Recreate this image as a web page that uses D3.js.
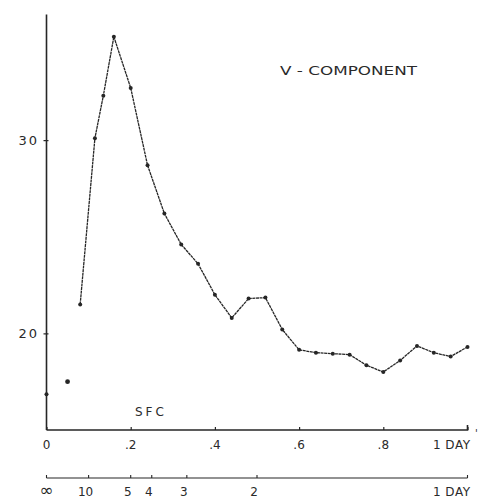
<!DOCTYPE html>
<html>
<head>
<meta charset="utf-8">
<script src="https://cdn.jsdelivr.net/npm/d3@7"></script>
<style>
body{margin:0;background:#fff;}
text{font-family:'DejaVu Sans',sans-serif;fill:#2a2a2a;}
</style>
</head>
<body>
<div id="chart_div"></div>
<script>
////////////////////////////////////////
// data
////////////////////////////////////////

var day = [0.08,0.115,0.135,0.16,0.20,0.24,0.28,0.32,0.36,0.40,0.44,0.48,0.52,0.56,0.60,0.64,0.68,0.72,0.76,0.80,0.84,0.88,0.92,0.96,1.00];
var vComp = [21.5,30.1,32.3,35.35,32.7,28.7,26.2,24.6,23.6,22.0,20.8,21.8,21.85,20.2,19.15,19.0,18.95,18.9,18.35,18.0,18.6,19.35,19.0,18.8,19.3];

var sfcDay = [0,0.05];
var sfcVal = [16.85,17.5];

var xTicks = [0,0.2,0.4,0.6,0.8,1];
var xTickLabels = ['0','.2','.4','.6','.8','1 DAY'];

var periodDays = [Infinity,10,5,4,3,2,1];
var periodLabels = ['\u221e','10','5','4','3','2','1 DAY'];

var yTicks = [20,30];

////////////////////////////////////////

var w = 481, h = 499;

var vis = d3.select('#chart_div')
	.append('svg')
	.attr('width',w)
	.attr('height',h);

var x = d3.scaleLinear().domain([0,1]).range([46.5,467.5]);
var y = d3.scaleLinear().domain([15,36.5]).range([430,14.5]);

var axisY0 = 430;
var axisY1 = 478;
var ink = '#262626';

// frequency axis
var xAxis = d3.axisBottom(x)
	.tickValues(xTicks)
	.tickSize(-3)
	.tickFormat('');

vis.append('g')
	.attr('transform','translate(0,'+axisY0+')')
	.call(xAxis)
	.call(function(g){
		g.select('.domain').attr('stroke',ink).attr('stroke-width',1.6).attr('d','M'+x(0)+',0H'+x(1)+'V-5');
		g.selectAll('.tick line').attr('stroke',ink).attr('stroke-width',1.2);
	});

vis.selectAll('text.xlab')
	.data(xTicks)
	.enter()
		.append('text')
		.attr('class','xlab')
		.attr('x',function(d,i){
			if(i===xTicks.length-1) return x(d)+3;
			return x(d);
		})
		.attr('y',axisY0+19)
		.attr('text-anchor',function(d,i){
			if(i===xTicks.length-1) return 'end';
			return 'middle';
		})
		.attr('font-size',12)
		.attr('letter-spacing',function(d,i){
			return i===xTicks.length-1 ? 0.5 : 0;
		})
		.text(function(d,i){
			return xTickLabels[i];
		});

vis.append('text')
	.attr('x',475)
	.attr('y',437)
	.attr('font-size',10)
	.text("'");

// period axis below
var periodPos = periodDays.map(function(p){
	return x(1/p);
});

vis.append('line')
	.attr('x1',x(0))
	.attr('x2',x(1))
	.attr('y1',axisY1)
	.attr('y2',axisY1)
	.attr('stroke',ink)
	.attr('stroke-width',1.2);

vis.selectAll('line.ptick')
	.data(periodPos)
	.enter()
		.append('line')
		.attr('class','ptick')
		.attr('x1',function(d){return d;})
		.attr('x2',function(d){return d;})
		.attr('y1',axisY1)
		.attr('y2',axisY1-3)
		.attr('stroke',ink)
		.attr('stroke-width',1.1);

vis.selectAll('text.plab')
	.data(periodPos)
	.enter()
		.append('text')
		.attr('class','plab')
		.attr('x',function(d,i){
			if(i===periodPos.length-1) return d+3;
			if(i===0) return d;
			return d-3;
		})
		.attr('y',axisY1+18)
		.attr('text-anchor',function(d,i){
			return i===periodPos.length-1 ? 'end' : 'middle';
		})
		.attr('font-size',function(d,i){
			return i===0 ? 17 : 12;
		})
		.attr('letter-spacing',function(d,i){
			return i===periodPos.length-1 ? 0.5 : 0;
		})
		.text(function(d,i){
			return periodLabels[i];
		});

// y axis
var yAxis = d3.axisLeft(y)
	.tickValues(yTicks)
	.tickSize(3)
	.tickFormat('');

vis.append('g')
	.attr('transform','translate('+x(0)+',0)')
	.call(yAxis)
	.call(function(g){
		g.select('.domain').attr('stroke',ink).attr('stroke-width',1.6).attr('d','M0,'+y(15)+'V'+y(36.5));
		g.selectAll('.tick line').attr('stroke',ink).attr('stroke-width',1.2).attr('x2',-3).attr('x1',2);
	});

vis.selectAll('text.ylab')
	.data(yTicks)
	.enter()
		.append('text')
		.attr('class','ylab')
		.attr('x',39)
		.attr('y',function(d){return y(d)+5;})
		.attr('text-anchor','end')
		.attr('font-size',13)
		.attr('letter-spacing',2)
		.text(function(d){return d;});

// the series
var pts = day.map(function(d,i){
	return [d,vComp[i]];
});

var line = d3.line()
	.x(function(d){return x(d[0]);})
	.y(function(d){return y(d[1]);});

vis.append('path')
	.datum(pts)
	.attr('d',line)
	.attr('fill','none')
	.attr('stroke',ink)
	.attr('stroke-width',1.3)
	.attr('stroke-dasharray','3,0.6');

vis.selectAll('circle.pt')
	.data(pts)
	.enter()
		.append('circle')
		.attr('class','pt')
		.attr('cx',function(d){return x(d[0]);})
		.attr('cy',function(d){return y(d[1]);})
		.attr('r',2)
		.attr('fill',ink);

vis.selectAll('circle.sfc')
	.data(sfcDay)
	.enter()
		.append('circle')
		.attr('class','sfc')
		.attr('cx',function(d){return x(d);})
		.attr('cy',function(d,i){return y(sfcVal[i]);})
		.attr('r',function(d,i){return i===0 ? 2 : 2.4;})
		.attr('fill',ink);

// labels
vis.append('text')
	.attr('x',135)
	.attr('y',416)
	.attr('font-size',12)
	.attr('letter-spacing',3)
	.text('SFC');

vis.append('text')
	.attr('x',280)
	.attr('y',75)
	.attr('font-size',12)
	.attr('textLength',137)
	.attr('lengthAdjust','spacingAndGlyphs')
	.text('V - COMPONENT');
</script>
</body>
</html>
